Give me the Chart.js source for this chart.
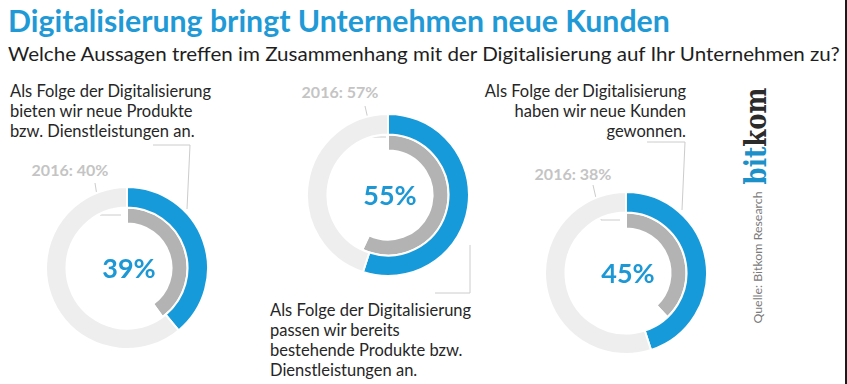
<!DOCTYPE html>
<html>
<head>
<meta charset="utf-8">
<script src="https://cdn.jsdelivr.net/npm/chart.js@4.4.1/dist/chart.umd.min.js"></script>
<style>
  html, body { margin: 0; padding: 0; background: #fff; }
  #wrap { position: relative; width: 847px; height: 384px; overflow: hidden; background: #fff;
          box-sizing: border-box; border-right: 2px solid #1a1a1a; font-family: Lato, "Open Sans", sans-serif; }
  .abs { position: absolute; white-space: nowrap; }
  #titel { left: 8px; top: 2px; font-size: 30px; font-weight: 700; color: #1f9ad6; transform-origin: left top; }
  #frage { left: 8px; top: 41px; font-size: 20px; color: #1e1e1e; transform-origin: left top; }
  .aussage { font-size: 16.5px; line-height: 20px; color: #262626; }
  .vorjahr { font-size: 16px; font-weight: 700; color: #c4c4c4; transform: translate(-50%, -50%); }
  .box { position: absolute; width: 164px; height: 164px; }
  #linien { position: absolute; left: 0; top: 0; }
  #logo { font-family: "DejaVu Serif", serif; font-weight: 700; font-size: 29px; }
  #quelle { font-size: 11.5px; color: #7a7a7a; }
</style>
</head>
<body>
<div id="wrap">
  <div id="titel" class="abs">Digitalisierung bringt Unternehmen neue Kunden</div>
  <div id="frage" class="abs">Welche Aussagen treffen im Zusammenhang mit der Digitalisierung auf Ihr Unternehmen zu?</div>
  <svg id="linien" width="847" height="384"></svg>
  <div id="logo" class="abs"><span style="color:#1c90c8">bit</span><span style="color:#2b2b2b">kom</span></div>
  <div id="quelle" class="abs">Quelle: Bitkom Research</div>
</div>

<script>
// Werte aus der Grafik (Anteil der Unternehmen in %)
const aussagen = [
  ["Als Folge der Digitalisierung", "bieten wir neue Produkte", "bzw. Dienstleistungen an."],
  ["Als Folge der Digitalisierung", "passen wir bereits", "bestehende Produkte bzw.", "Dienstleistungen an."],
  ["Als Folge der Digitalisierung", "haben wir neue Kunden", "gewonnen."]
];
const anteil2017 = [39, 55, 45];
const anteil2016 = [40, 57, 38];
const vorjahr = "2016";

// Layout
const blau = "#179ad9";
const grau = "#b3b3b3";
const hellgrau = "#eeeeee";
const mitten = [[127, 268], [388, 195], [626, 273]];
const textPos = [
  {x: 10, y: 81, align: "left"},
  {x: 270, y: 300, align: "left"},
  {x: 688, y: 81, align: "right"}
];
const vorjahrPos = [[70, 169], [340, 91], [573, 173]];
const linien = [
  [[153, 145], [190, 145], [187, 209]],
  [[95, 183], [100, 215], [121, 215]],
  [[365, 106], [372, 137], [386, 137]],
  [[470, 245], [470, 293], [435, 293]],
  [[593, 185], [601, 220], [620, 220]],
  [[647, 142], [685, 142], [682, 210]]
];

const wrap = document.getElementById("wrap");

// Breite eines Textes an die Vorlage anpassen
function passend(el, breite) {
  const w = el.offsetWidth;
  el.style.transform = "scaleX(" + (breite / w) + ")";
}
passend(document.getElementById("titel"), 662);
passend(document.getElementById("frage"), 832);

// Logo und Quelle, senkrecht
function senkrecht(el, cx, cy, laenge) {
  const w = el.offsetWidth, h = el.offsetHeight;
  el.style.left = (cx - w / 2) + "px";
  el.style.top = (cy - h / 2) + "px";
  el.style.transform = "rotate(-90deg) scaleX(" + (laenge / w) + ")";
}
senkrecht(document.getElementById("logo"), 756, 136, 97);
senkrecht(document.getElementById("quelle"), 757, 257, 132);

// Leitlinien
const svg = document.getElementById("linien");
linien.forEach(function(pts) {
  const pl = document.createElementNS("http://www.w3.org/2000/svg", "polyline");
  pl.setAttribute("points", pts.map(p => p.join(",")).join(" "));
  pl.setAttribute("fill", "none");
  pl.setAttribute("stroke", "#cccccc");
  pl.setAttribute("stroke-width", "1");
  svg.appendChild(pl);
});

// Aussagen und Vorjahreswerte
aussagen.forEach(function(zeilen, i) {
  const d = document.createElement("div");
  d.className = "abs aussage";
  d.style.textAlign = textPos[i].align;
  d.style.top = textPos[i].y + "px";
  if (textPos[i].align == "right") d.style.right = (847 - textPos[i].x) + "px";
  else d.style.left = textPos[i].x + "px";
  d.innerHTML = zeilen.join("<br>");
  wrap.appendChild(d);

  const v = document.createElement("div");
  v.className = "abs vorjahr";
  v.style.left = vorjahrPos[i][0] + "px";
  v.style.top = vorjahrPos[i][1] + "px";
  v.textContent = vorjahr + ": " + anteil2016[i] + "%";
  wrap.appendChild(v);
});

// Prozentwert in der Mitte
const mitteText = {
  id: "mitteText",
  afterDraw: function(chart) {
    const arc = chart.getDatasetMeta(0).data[0];
    const ctx = chart.ctx;
    ctx.save();
    ctx.font = "700 27px Lato, sans-serif";
    ctx.fillStyle = "#1d98d5";
    ctx.textAlign = "center";
    ctx.textBaseline = "middle";
    ctx.fillText(chart.$wert + "%", arc.x + 2, arc.y + 1);
    ctx.restore();
  }
};

anteil2017.forEach(function(wert, i) {
  const box = document.createElement("div");
  box.className = "box";
  box.style.left = (mitten[i][0] - 82) + "px";
  box.style.top = (mitten[i][1] - 82) + "px";
  const cv = document.createElement("canvas");
  cv.width = 164; cv.height = 164;
  box.appendChild(cv);
  wrap.appendChild(box);

  const chart = new Chart(cv, {
    type: "doughnut",
    data: {
      labels: ["ja", "nein"],
      datasets: [{
        data: [wert, 100 - wert],
        backgroundColor: [blau, hellgrau],
        borderColor: "#ffffff",
        borderWidth: 2,
        weight: 20.5
      }, {
        data: [anteil2016[i], 100 - anteil2016[i]],
        backgroundColor: [grau, "rgba(255,255,255,0)"],
        borderColor: "#ffffff",
        borderWidth: 2,
        weight: 16
      }]
    },
    options: {
      responsive: false,
      animation: false,
      events: [],
      cutout: "55%",
      plugins: { legend: { display: false }, tooltip: { enabled: false } }
    },
    plugins: [mitteText]
  });
  chart.$wert = wert;
  chart.draw();
});
</script>
</body>
</html>
